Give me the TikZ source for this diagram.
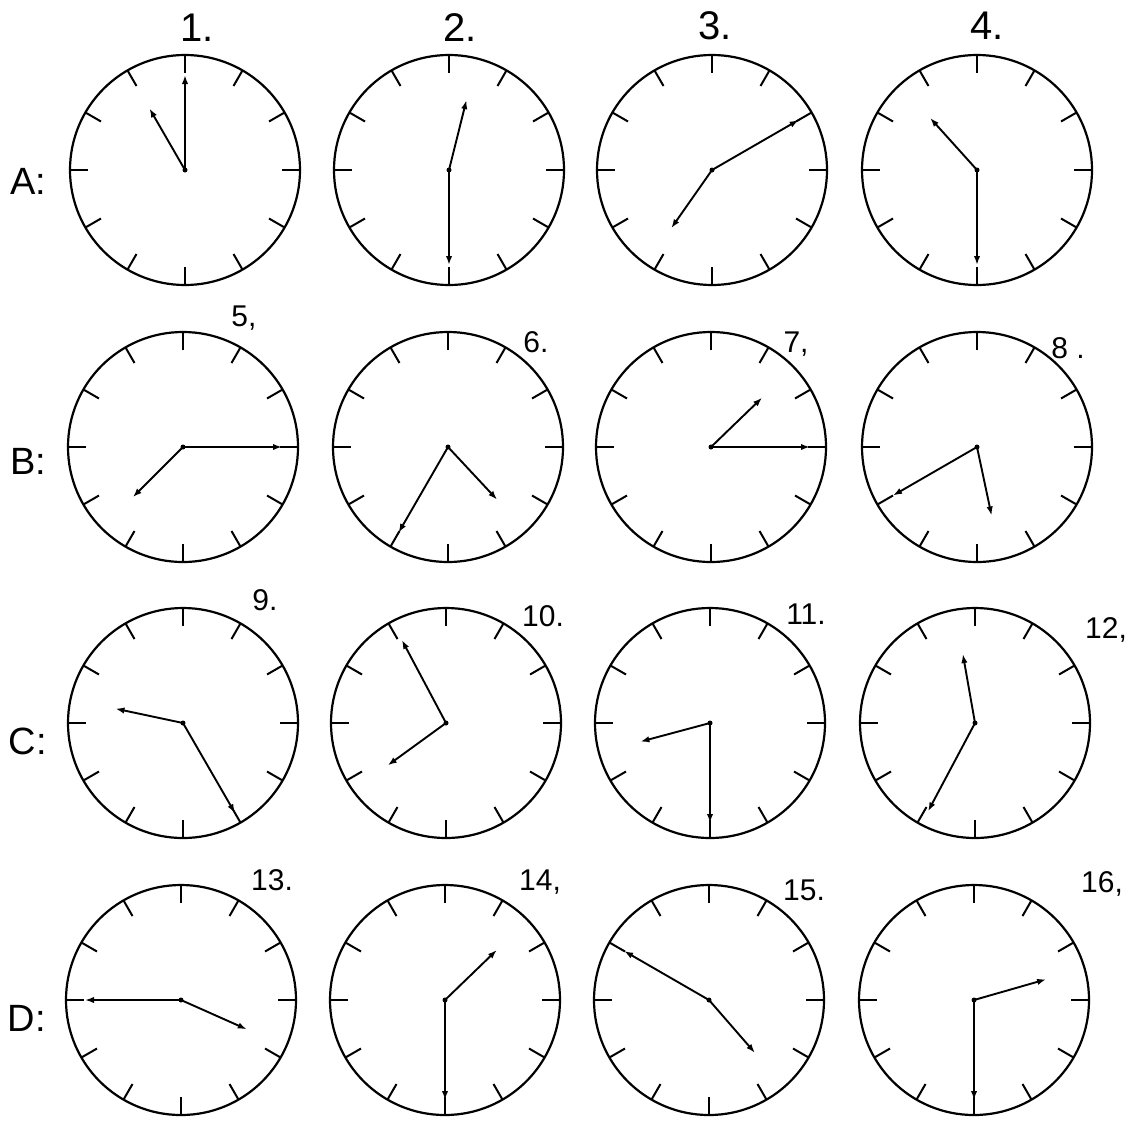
\documentclass[tikz,border=0pt]{standalone}
\usepackage{fontspec}
\setmainfont{Liberation Sans}
\usetikzlibrary{arrows.meta,calc}
\tikzset{
  face/.style={line width=1.1pt},
  tickmark/.style={line width=1pt},
  hand/.style={line width=0.95pt,-{Latex[length=4.5pt,width=3.2pt]}},
  hub/.style={circle,fill=black,inner sep=0pt,minimum size=2.5pt},
  collabel/.style={font=\fontsize{20}{22}\selectfont},
  rowlabel/.style={font=\fontsize{19}{21}\selectfont},
  numlabel/.style={font=\fontsize{15}{17}\selectfont}
}
% #1 name, #2 x, #3 y, #4 minute compass angle, #5 minute length, #6 hour compass angle, #7 hour length
\newcommand{\myclock}[7]{%
  \node[hub] (#1) at (#2,#3) {};
  \draw[face] (#1.center) circle (115);
  \foreach \k in {0,...,11} {
    \draw[tickmark] ($(#1.center)+(\k*30:115)$) -- ($(#1.center)+(\k*30:97)$);
  }
  \coordinate (#1m) at ($(#1.center)+(#4-90:#5)$);
  \coordinate (#1h) at ($(#1.center)+(#6-90:#7)$);
  \draw[hand] (#1.center) -- (#1m);
  \draw[hand] (#1.center) -- (#1h);
}
\begin{document}
\begin{tikzpicture}[x=0.5pt,y=-0.5pt]
\useasboundingbox (0,0) rectangle (1139,1125);
% Row A
\myclock{c1}{185}{170}{0}{95}{-30}{71}
\myclock{c2}{449}{170}{180}{95}{14}{72}
\myclock{c3}{712}{170}{60}{100}{215}{71}
\myclock{c4}{977}{170}{180}{95}{-42}{70}
% Row B
\myclock{c5}{183}{447}{90}{99}{225}{71}
\myclock{c6}{448}{447}{210}{99}{137}{72}
\myclock{c7}{711}{447}{90}{99}{46}{71}
\myclock{c8}{977}{447}{240}{97}{168}{70}
% Row C
\myclock{c9}{183}{723}{150}{104}{282}{69}
\myclock{c10}{446}{723}{-28}{94}{234}{72}
\myclock{c11}{710}{723}{180}{100}{255}{72}
\myclock{c12}{975}{723}{208}{100}{-10}{70}
% Row D
\myclock{c13}{181}{1000}{270}{96}{114}{72}
\myclock{c14}{445}{1000}{180}{100}{46}{72}
\myclock{c15}{709}{1000}{300}{98}{139}{70}
\myclock{c16}{974}{1000}{180}{100}{74}{75}
% column labels
\node[collabel] (l1) at (197,28) {1.};
\node[collabel] (l2) at (460,28) {2.};
\node[collabel] (l3) at (715,26) {3.};
\node[collabel] (l4) at (987,26) {4.};
% row labels
\node[rowlabel] (rA) at (28,181) {A:};
\node[rowlabel] (rB) at (28,461) {B:};
\node[rowlabel] (rC) at (28,741) {C:};
\node[rowlabel] (rD) at (27,1018) {D:};
% number labels
\node[numlabel] (n5) at (244,318) {5,};
\node[numlabel] (n6) at (536,342) {6.};
\node[numlabel] (n7) at (796,344) {7,};
\node[numlabel] (n8) at (1068,348) {8 .};
\node[numlabel] (n9) at (265,600) {9.};
\node[numlabel] (n10) at (543,616) {10.};
\node[numlabel] (n11) at (806,614) {11.};
\node[numlabel] (n12) at (1106,630) {12,};
\node[numlabel] (n13) at (272,880) {13.};
\node[numlabel] (n14) at (540,882) {14,};
\node[numlabel] (n15) at (804,890) {15.};
\node[numlabel] (n16) at (1102,884) {16,};
\end{tikzpicture}
\end{document}
